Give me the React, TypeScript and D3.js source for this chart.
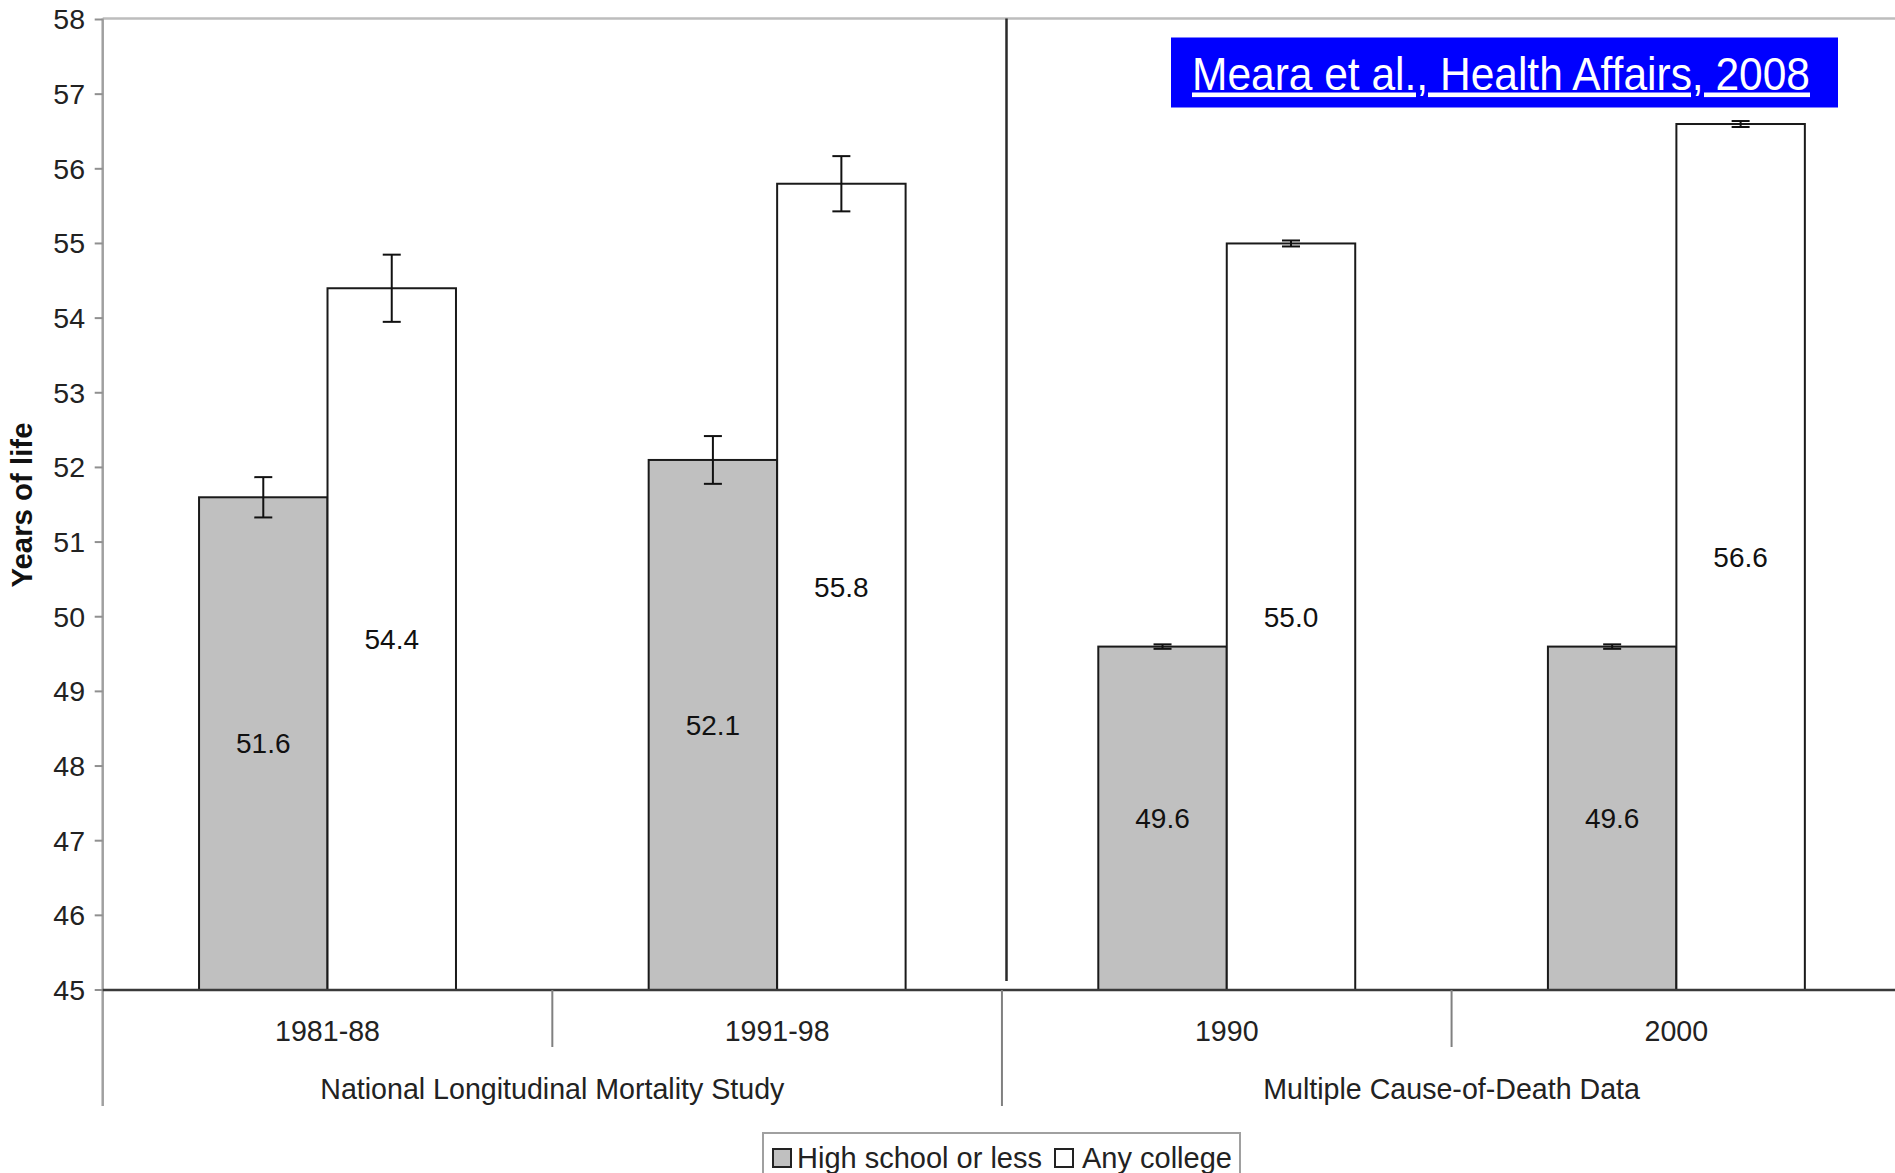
import React from "react";
import * as d3 from "d3";

const categories = ["1981-88", "1991-98", "1990", "2000"];
const groups = [
  { name: "National Longitudinal Mortality Study", from: 0, to: 1 },
  { name: "Multiple Cause-of-Death Data", from: 2, to: 3 },
];
const series = ["High school or less", "Any college"];
const highSchool = [51.6, 52.1, 49.6, 49.6];
const anyCollege = [54.4, 55.8, 55.0, 56.6];
const highSchoolErr = [0.27, 0.32, 0.03, 0.03];
const anyCollegeErr = [0.45, 0.37, 0.04, 0.04];
const yTicks = d3.range(45, 59);
const citation = "Meara et al., Health Affairs, 2008";
const yTitle = "Years of life";

const W = 1895;
const H = 1173;
const FONT = "'Liberation Sans', Arial, Helvetica, sans-serif";

export default function App() {
  const left = 102.7;
  const right = 1901.2;
  const top = 19.5;
  const bottom = 990;
  const borderY = 18.5;

  const y = d3.scaleLinear().domain([45, 58]).range([bottom, top]);
  const x = d3.scaleBand<string>().domain(categories).range([left, right]).paddingInner(0).paddingOuter(0);
  const xs = d3.scaleBand<string>().domain(series).range([0, x.bandwidth()]).paddingInner(0).paddingOuter(0.75);
  const fills = ["#c0c0c0", "#ffffff"];
  const values = [highSchool, anyCollege];
  const errs = [highSchoolErr, anyCollegeErr];

  const boundaries = categories.slice(1).map((c) => x(c)!);
  const groupSepX = x(categories[2])!;

  return (
    <svg width={W} height={H} style={{ position: "absolute", left: 0, top: 0, background: "#fff" }} fontFamily={FONT}>
      <rect x={0} y={0} width={W} height={H} fill="#fff" />
      {/* top border */}
      <line x1={left} x2={W} y1={borderY} y2={borderY} stroke="#bdbdbd" strokeWidth={2.5} />
      {/* y axis */}
      <line x1={left} x2={left} y1={borderY} y2={1106} stroke="#a0a0a0" strokeWidth={2.5} />
      {yTicks.map((t) => (
        <g key={t}>
          <line x1={left - 8} x2={left} y1={y(t)} y2={y(t)} stroke="#909090" strokeWidth={2} />
          <text x={85} y={y(t)} dy="0.35em" textAnchor="end" fontSize={28.5} fill="#222">
            {t}
          </text>
        </g>
      ))}
      <text
        transform={`translate(${22},${505}) rotate(-90)`}
        textAnchor="middle"
        dy="0.35em"
        fontSize={29.4}
        fontWeight="bold"
        fill="#111"
      >
        {yTitle}
      </text>

      {/* group separator */}
      <line x1={1006.5} x2={1006.5} y1={borderY} y2={981} stroke="#2a2a2a" strokeWidth={2.5} />

      {/* bars */}
      {series.map((s, si) =>
        categories.map((c, ci) => {
          const bx = x(c)! + xs(s)!;
          const v = values[si][ci];
          return (
            <rect
              key={s + c}
              x={bx}
              y={y(v)}
              width={xs.bandwidth()}
              height={y(45) - y(v)}
              fill={fills[si]}
              stroke="#1a1a1a"
              strokeWidth={2}
            />
          );
        })
      )}

      {/* error bars */}
      {series.map((s, si) =>
        categories.map((c, ci) => {
          const cx = x(c)! + xs(s)! + xs.bandwidth() / 2;
          const v = values[si][ci];
          const e = errs[si][ci];
          return (
            <g key={"e" + s + c} stroke="#111" strokeWidth={2}>
              <line x1={cx} x2={cx} y1={y(v + e)} y2={y(v - e)} />
              <line x1={cx - 9} x2={cx + 9} y1={y(v + e)} y2={y(v + e)} />
              <line x1={cx - 9} x2={cx + 9} y1={y(v - e)} y2={y(v - e)} />
            </g>
          );
        })
      )}

      {/* value labels */}
      {series.map((s, si) =>
        categories.map((c, ci) => {
          const cx = x(c)! + xs(s)! + xs.bandwidth() / 2;
          const v = values[si][ci];
          return (
            <text
              key={"l" + s + c}
              x={cx}
              y={(y(v) + y(45)) / 2}
              dy="0.35em"
              textAnchor="middle"
              fontSize={28}
              fill="#111"
            >
              {v.toFixed(1)}
            </text>
          );
        })
      )}

      {/* x axis */}
      <line x1={left} x2={W} y1={bottom} y2={bottom} stroke="#3a3a3a" strokeWidth={2.5} />
      {boundaries.map((b) => (
        <line
          key={b}
          x1={b}
          x2={b}
          y1={bottom}
          y2={b === groupSepX ? 1106 : 1047}
          stroke="#808080"
          strokeWidth={2}
        />
      ))}
      {categories.map((c) => (
        <text key={c} x={x(c)! + x.bandwidth() / 2} y={1031} dy="0.35em" textAnchor="middle" fontSize={28.6} fill="#222">
          {c}
        </text>
      ))}
      {groups.map((g) => {
        const gx = (x(categories[g.from])! + x(categories[g.to])! + x.bandwidth()) / 2;
        return (
          <text key={g.name} x={gx} y={1089} dy="0.35em" textAnchor="middle" fontSize={28.6} fill="#222">
            {g.name}
          </text>
        );
      })}

      {/* citation */}
      <rect x={1171} y={37.5} width={667} height={70} fill="#0000ff" />
      <text
        x={1192}
        y={89.5}
        fontSize={46}
        fill="#fff"
        textLength={618}
        lengthAdjust="spacingAndGlyphs"
        textDecoration="underline"
      >
        {citation}
      </text>

      {/* legend */}
      <rect x={763} y={1133} width={477} height={60} fill="#fff" stroke="#a0a0a0" strokeWidth={2} />
      {series.map((s, si) => {
        const sx = [773, 1055][si];
        const tx = [797, 1082][si];
        return (
          <g key={"lg" + s}>
            <rect x={sx} y={1149} width={18} height={18} fill={fills[si]} stroke="#222" strokeWidth={2} />
            <text x={tx} y={1168} fontSize={29} fill="#222">
              {s}
            </text>
          </g>
        );
      })}
    </svg>
  );
}
